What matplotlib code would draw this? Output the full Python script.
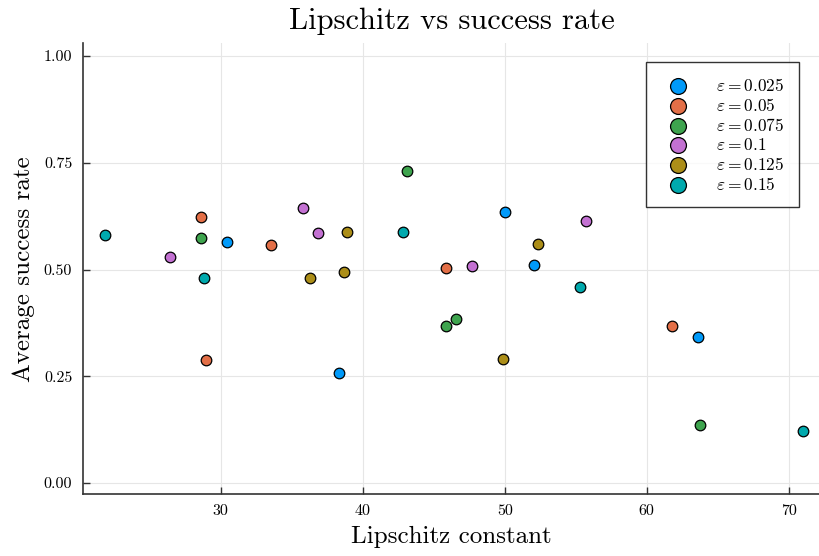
import matplotlib
matplotlib.use("Agg")
import matplotlib.pyplot as plt
from matplotlib.ticker import FixedLocator, FormatStrFormatter

# data
eps_labels = [r"$\varepsilon = 0.025$", r"$\varepsilon = 0.05$", r"$\varepsilon = 0.075$",
              r"$\varepsilon = 0.1$", r"$\varepsilon = 0.125$", r"$\varepsilon = 0.15$"]
colors = ["#009AFA", "#E36F47", "#3EA44E", "#C371D2", "#AC8E18", "#00A9AD"]

lip_025 = [30.45, 38.31, 49.99, 52.09, 63.64]
rate_025 = [0.565, 0.257, 0.635, 0.510, 0.343]

lip_05 = [28.64, 28.99, 33.55, 45.87, 61.79]
rate_05 = [0.622, 0.289, 0.557, 0.503, 0.368]

lip_075 = [28.64, 43.13, 45.87, 46.60, 63.73]
rate_075 = [0.573, 0.730, 0.368, 0.385, 0.135]

lip_1 = [26.41, 35.77, 36.87, 47.73, 55.70]
rate_1 = [0.530, 0.643, 0.585, 0.508, 0.614]

lip_125 = [36.32, 38.93, 38.66, 49.85, 52.35]
rate_125 = [0.479, 0.587, 0.494, 0.290, 0.560]

lip_15 = [21.83, 28.83, 42.82, 55.31, 71.01]
rate_15 = [0.581, 0.479, 0.588, 0.458, 0.122]

xs = [lip_025, lip_05, lip_075, lip_1, lip_125, lip_15]
ys = [rate_025, rate_05, rate_075, rate_1, rate_125, rate_15]

plt.rcParams["font.family"] = "cmr10"
plt.rcParams["mathtext.fontset"] = "cm"
plt.rcParams["axes.formatter.use_mathtext"] = True

fig = plt.figure(figsize=(8.2, 5.56), dpi=100)
ax = fig.add_axes([83.3 / 820, (556 - 494.3) / 556, (820 - 83.3) / 820, (494.3 - 43.3) / 556])

for x, y, c, lab in zip(xs, ys, colors, eps_labels):
    ax.scatter(x, y, s=58, color=c, edgecolors="black", linewidths=0.9, label=lab, zorder=3)

ax.set_xlim(20.33, 72.2)
ax.set_ylim(-0.0266, 1.0299)

ax.xaxis.set_major_locator(FixedLocator([30, 40, 50, 60, 70]))
ax.yaxis.set_major_locator(FixedLocator([0, 0.25, 0.5, 0.75, 1.0]))
ax.yaxis.set_major_formatter(FormatStrFormatter("%.2f"))
ax.xaxis.set_major_formatter(FormatStrFormatter("%d"))

ax.grid(True, color="#e6e6e6", linewidth=0.8, zorder=0)
ax.set_axisbelow(True)
for side in ["top", "right"]:
    ax.spines[side].set_visible(False)
for side in ["left", "bottom"]:
    ax.spines[side].set_color("#333333")
    ax.spines[side].set_linewidth(1.2)
ax.tick_params(direction="in", length=5, width=1.0, color="#333333", labelsize=11.5)
ax.tick_params(axis="y", pad=8)
ax.tick_params(axis="x", pad=7)

ax.set_title("Lipschitz vs success rate", fontsize=22, pad=10)
ax.set_xlabel("Lipschitz constant", fontsize=18, labelpad=6)
ax.set_ylabel("Average success rate", fontsize=18, labelpad=6)

leg = ax.legend(loc="upper right", bbox_to_anchor=((799 - 83.3) / 736.7, (494.3 - 62) / 451),
                fontsize=12.5, markerscale=1.5, frameon=True, fancybox=False,
                edgecolor="black", borderpad=0.85, labelspacing=0.17, handletextpad=1.2,
                borderaxespad=0.0, handlelength=2.0)
leg.get_frame().set_linewidth(1.0)

fig.savefig("out.png", dpi=100)
